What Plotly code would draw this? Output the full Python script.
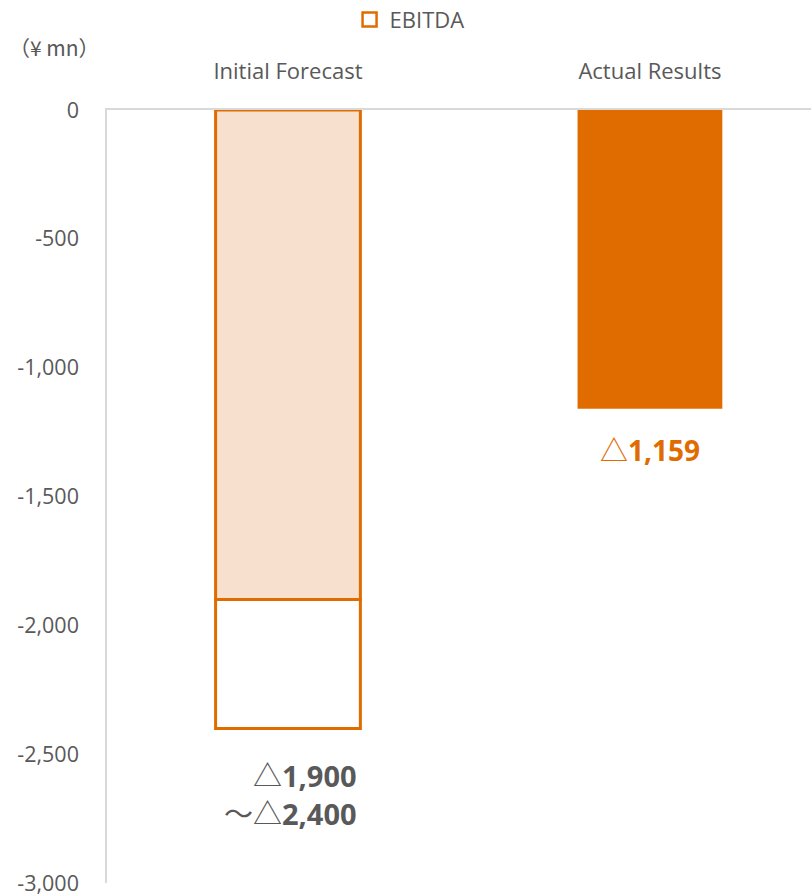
import plotly.graph_objects as go

# EBITDA, ¥ mn
categories = ["Initial Forecast", "Actual Results"]
forecast_low = -1900          # upper end of the forecast range
forecast_high = -2400         # lower end of the forecast range
actual_value = -1159

tick_values = [0, -500, -1000, -1500, -2000, -2500, -3000]
tick_labels = ["0", "-500", "-1,000", "-1,500", "-2,000", "-2,500", "-3,000"]

ORANGE = "#E06C00"
LIGHT = "#F8E0CE"
GRAY = "#595959"
AXIS = "#D9D9D9"
FONT = "Open Sans, Noto Sans CJK JP, sans-serif"
CJK_FONT = "Noto Sans CJK JP, Open Sans, sans-serif"

fig = go.Figure()

# Forecast: filled part down to the first bound
fig.add_trace(go.Bar(
    x=[categories[0]], y=[forecast_low], base=0,
    width=0.4, marker=dict(color=LIGHT, line=dict(color=ORANGE, width=3)),
    showlegend=False, hoverinfo="skip",
))
# Forecast: open part covering the rest of the range
fig.add_trace(go.Bar(
    x=[categories[0]], y=[forecast_high - forecast_low], base=forecast_low,
    width=0.4, marker=dict(color="white", line=dict(color=ORANGE, width=3)),
    showlegend=False, hoverinfo="skip",
))
# Actual result
fig.add_trace(go.Bar(
    x=[categories[1]], y=[actual_value], base=0,
    width=0.4, marker=dict(color=ORANGE, line=dict(width=0)),
    showlegend=False, hoverinfo="skip",
))
# Legend entry: open orange square
fig.add_trace(go.Scatter(
    x=[None], y=[None], mode="markers", name="EBITDA",
    marker=dict(symbol="square", size=14, color="white",
                line=dict(color=ORANGE, width=2.5)),
    hoverinfo="skip",
))

def tri(v):
    return "△<b>{:,}</b>".format(abs(v))

fig.add_annotation(
    x=categories[1], y=actual_value, yref="y", yanchor="top", yshift=-20,
    text=tri(actual_value), showarrow=False,
    font=dict(family=FONT, size=28, color=ORANGE),
)
fig.add_annotation(
    x=categories[0], xshift=71, xanchor="right",
    y=forecast_high, yref="y", yanchor="top", yshift=-26,
    text=tri(forecast_low) + "<br>～" + tri(forecast_high),
    align="right", showarrow=False,
    font=dict(family=FONT, size=29, color=GRAY),
)
fig.add_annotation(
    xref="paper", x=-0.142, xanchor="left",
    yref="paper", y=1.0815, yanchor="middle",
    text="（¥ mn）", showarrow=False,
    font=dict(family=CJK_FONT, size=21, color=GRAY),
)

fig.update_layout(
    width=811, height=896,
    margin=dict(l=107, r=0, t=110, b=13),
    paper_bgcolor="white", plot_bgcolor="white",
    barmode="overlay",
    font=dict(family=FONT, size=22, color=GRAY),
    legend=dict(
        orientation="h", xref="container", yref="container",
        x=0.505, y=0.978, xanchor="center", yanchor="middle",
        font=dict(size=22, color=GRAY), itemwidth=30,
    ),
    xaxis=dict(
        side="top", categoryorder="array", categoryarray=categories,
        range=[-0.5, 1.445], showline=True, linecolor=AXIS, linewidth=1.5,
        showgrid=False, ticks="", ticklabelstandoff=20,
        tickfont=dict(size=22, color=GRAY),
    ),
    yaxis=dict(
        range=[-3000, 0], tickvals=tick_values, ticktext=tick_labels,
        showline=True, linecolor=AXIS, linewidth=1.5,
        showgrid=False, zeroline=False, ticks="", ticklabelstandoff=22,
        ticklabeloverflow="allow",
        tickfont=dict(size=21.5, color=GRAY),
    ),
)

fig.write_html("out.html")
